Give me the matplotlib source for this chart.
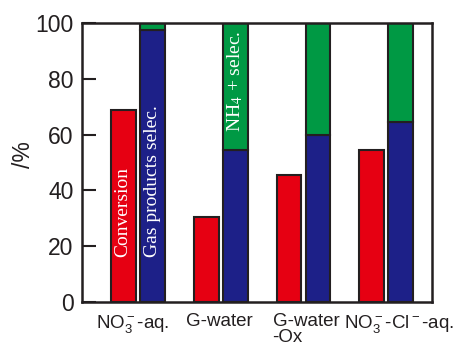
import matplotlib.pyplot as plt
import numpy as np

plt.rcParams['font.family'] = ['Liberation Sans', 'DejaVu Sans']
plt.rcParams['mathtext.fontset'] = 'custom'
plt.rcParams['mathtext.rm'] = 'Liberation Sans'
plt.rcParams['mathtext.it'] = 'Liberation Sans'

samples = [r'NO$_3^-$-aq.', 'G-water', 'G-water\n-Ox', r'NO$_3^-$-Cl$^-$-aq.']
conversion = [69, 30.5, 45.5, 54.5]
gas_selec = [97.5, 54.5, 60, 64.5]
nh4_selec = [2.5, 45.5, 40, 35.5]

red = '#e60012'
blue = '#1d2088'
green = '#009944'
ink = '#231f20'

fig = plt.figure(figsize=(4.57, 3.45), dpi=100)
ax = fig.add_axes([0.179, 0.125, 0.766, 0.808])

x = np.arange(len(samples))
w = 0.3
off = 0.175
ax.bar(x - off, conversion, w, color=red, edgecolor=ink, linewidth=1.5)
ax.bar(x + off, gas_selec, w, color=blue, edgecolor=ink, linewidth=1.5)
ax.bar(x + off, nh4_selec, w, bottom=gas_selec, color=green, edgecolor=ink, linewidth=1.5)

ax.text(x[0] - off, 16, 'Conversion', rotation=90, ha='center', va='bottom',
        color='white', fontsize=14, family='Liberation Serif')
ax.text(x[0] + off, 16, 'Gas products selec.', rotation=90, ha='center', va='bottom',
        color='white', fontsize=14, family='Liberation Serif')
ax.text(x[1] + off, 97.5, r'NH$_4$ + selec.', rotation=90, ha='center', va='top',
        color='white', fontsize=14, family='Liberation Serif', math_fontfamily='stix')

ax.set_xlim(-0.675, 3.55)
ax.set_ylim(0, 100)
ax.set_yticks([0, 20, 40, 60, 80, 100])
# labels sit a little off the group centres in the original
ax.set_xticks(x + np.array([-0.06, -0.01, 0.03, 0.15]))
labels = ax.set_xticklabels(samples, fontsize=13.5, color=ink, linespacing=0.9)
labels[2].set_multialignment('left')
ax.tick_params(axis='x', length=0, pad=8)
ax.tick_params(axis='y', direction='in', length=10, width=1.5, labelsize=16.5,
               colors=ink, pad=6)
ax.set_ylabel('/%', fontsize=16.5, color=ink)
ax.yaxis.set_label_coords(-0.134, 0.53)
for s in ax.spines.values():
    s.set_linewidth(1.8)
    s.set_color(ink)

fig.savefig('out.png', dpi=100)
